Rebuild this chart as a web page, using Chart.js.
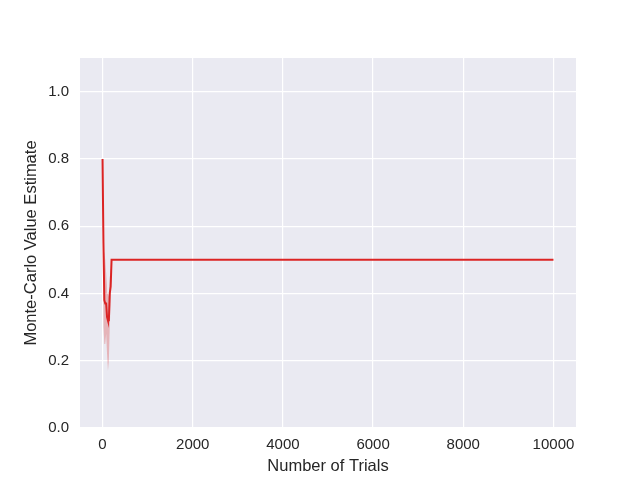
<!DOCTYPE html>
<html>
<head>
<meta charset="utf-8">
<script src="https://cdn.jsdelivr.net/npm/chart.js@4"></script>
<style>
  body { margin: 0; background: #fff; }
  #wrap { width: 640px; height: 480px; }
</style>
</head>
<body>
<div id="wrap"><canvas id="chart" width="640" height="480"></canvas></div>
<script>
// DATA
const trials = [0, 20, 40, 60, 80, 100, 120, 140, 160, 180, 200, 10000];
const estimate = [0.80, 0.55, 0.38, 0.37, 0.37, 0.33, 0.32, 0.32, 0.40, 0.42, 0.50, 0.50];
const upper = [0.81, 0.53, 0.52, 0.50, 0.46, 0.42, 0.40, 0.39, 0.45, 0.46, 0.50, 0.50];
const lower = [0.79, 0.30, 0.25, 0.25, 0.28, 0.22, 0.17, 0.20, 0.30, 0.38, 0.50, 0.50];
const xTicks = [0, 2000, 4000, 6000, 8000, 10000];
const yTicks = [0.0, 0.2, 0.4, 0.6, 0.8, 1.0];

const pts = arr => trials.map((t, i) => ({ x: t, y: arr[i] }));

// background of the plot area
const plotBg = {
    id: "plotBg",
    beforeDraw(chart) {
        const { ctx, chartArea: a } = chart;
        ctx.save();
        ctx.fillStyle = "#eaeaf2";
        ctx.fillRect(a.left, a.top, a.right - a.left, a.bottom - a.top);
        ctx.restore();
    }
};

const font = { family: "Liberation Sans", size: 15 };
const titleFont = { family: "Liberation Sans", size: 16.5 };
const ink = "#262626";

new Chart(document.getElementById("chart"), {
    type: "line",
    data: {
        datasets: [
            {
                label: "upper",
                data: pts(upper),
                borderWidth: 0,
                pointRadius: 0,
                fill: false
            },
            {
                label: "lower",
                data: pts(lower),
                borderWidth: 0,
                pointRadius: 0,
                backgroundColor: "rgba(214,39,40,0.28)",
                fill: "-1"
            },
            {
                label: "estimate",
                data: pts(estimate),
                borderColor: "#dc2424",
                borderWidth: 2,
                pointRadius: 0,
                fill: false
            }
        ]
    },
    options: {
        responsive: false,
        animation: false,
        layout: { padding: { left: 0, top: 58, right: 64, bottom: 0 } },
        plugins: { legend: { display: false }, tooltip: { enabled: false } },
        scales: {
            x: {
                type: "linear",
                min: -500,
                max: 10500,
                afterBuildTicks: s => { s.ticks = xTicks.map(v => ({ value: v })); },
                afterFit: s => { s.height = 52; },
                grid: { color: "#ffffff", lineWidth: 1.2, drawTicks: false },
                border: { display: false },
                ticks: { color: ink, font, padding: 8, maxRotation: 0, callback: v => String(v) },
                title: { display: true, text: "Number of Trials", color: ink, font: titleFont, padding: { top: 0 } }
            },
            y: {
                min: 0,
                max: 1.1,
                afterBuildTicks: s => { s.ticks = yTicks.map(v => ({ value: v })); },
                afterFit: s => { s.width = 80; },
                grid: { color: "#ffffff", lineWidth: 1.2, drawTicks: false },
                border: { display: false },
                ticks: { color: ink, font, padding: 11, callback: v => v.toFixed(1) },
                title: { display: true, text: "Monte-Carlo Value Estimate", color: ink, font: titleFont, padding: { top: 22, bottom: 0 } }
            }
        }
    },
    plugins: [plotBg]
});
</script>
</body>
</html>
